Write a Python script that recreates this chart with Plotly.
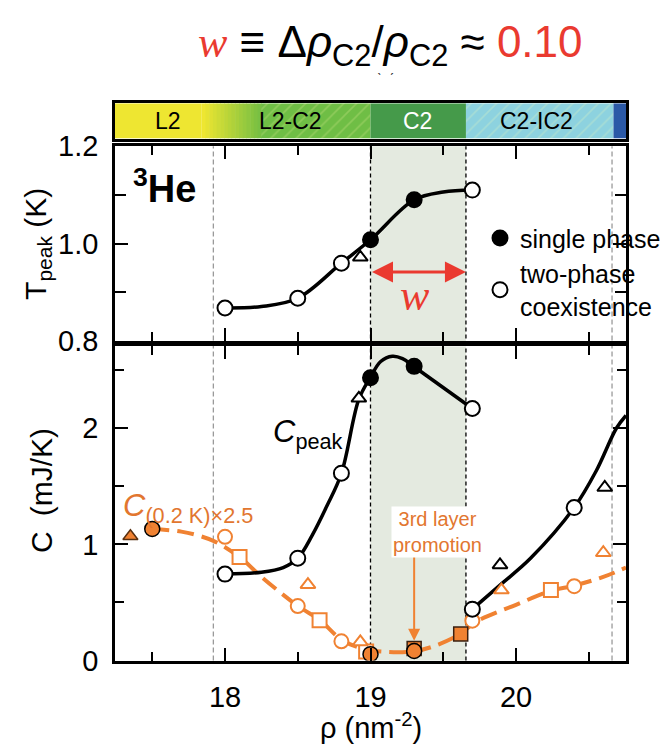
import numpy as np
import plotly.graph_objects as go

# ---------------- data ----------------
rho_range = [17.244, 20.756]

# phase bar (boundaries in nm^-2)
phase_names = ["L2", "L2-C2", "C2", "C2-IC2"]
phase_label_x = [17.61, 18.45, 19.32, 20.14]
phase_label_color = ["black", "black", "white", "black"]
l2_end = 17.84
grad_end = 18.25
c2_start = 19.0
c2_end = 19.656
ic2_start = 20.67

# boundary guide lines
gray_lines = [17.92, 20.66]
black_lines = [c2_start, c2_end]

# T_peak panel
tpk_single_x = [19.0, 19.3]
tpk_single_y = [1.008, 1.09]
tpk_coex_x = [18.0, 18.5, 18.8, 19.7]
tpk_coex_y = [0.868, 0.888, 0.96, 1.11]
tpk_tri_x = [18.93]
tpk_tri_y = [0.972]
tpk_curve_x = [18.0, 18.25, 18.5, 18.8, 19.0, 19.3, 19.5, 19.7]
tpk_curve_y = [0.868, 0.871, 0.888, 0.96, 1.008, 1.09, 1.106, 1.11]
w_arrow_T = 0.942

# C_peak (black)
cpk_single_x = [19.0, 19.3]
cpk_single_y = [2.436, 2.533]
cpk_coex_x = [18.0, 18.5, 18.8, 19.7, 19.7, 20.4]
cpk_coex_y = [0.744, 0.881, 1.613, 2.17, 0.442, 1.317]
cpk_tri_x = [18.92, 19.89, 20.61]
cpk_tri_y = [2.258, 0.823, 1.49]
cpk_curve1_x = [18.0, 18.25, 18.4, 18.5, 18.6, 18.7, 18.8, 18.92, 19.0, 19.07, 19.15, 19.22, 19.3, 19.7]
cpk_curve1_y = [0.744, 0.76, 0.80, 0.88, 1.08, 1.33, 1.61, 2.25, 2.44, 2.575, 2.62, 2.60, 2.53, 2.17]
cpk_curve2_x = [19.7, 19.9, 20.1, 20.4, 20.55, 20.69, 20.756]
cpk_curve2_y = [0.442, 0.66, 0.88, 1.317, 1.63, 2.0, 2.11]

# C(0.2 K) x 2.5 (orange)
c02_fcirc_x = [17.5, 19.0, 19.3]
c02_fcirc_y = [1.133, 0.055, 0.082]
c02_ftri_x = [17.35]
c02_ftri_y = [1.07]
c02_fsq_x = [19.3, 19.62]
c02_fsq_y = [0.104, 0.228]
c02_ocirc_x = [18.0, 18.5, 18.8, 19.7, 20.4]
c02_ocirc_y = [1.065, 0.469, 0.165, 0.343, 0.64]
c02_osq_x = [18.1, 18.65, 18.97, 20.24]
c02_osq_y = [0.892, 0.346, 0.077, 0.607]
c02_otri_x = [18.57, 18.93, 19.9, 20.6]
c02_otri_y = [0.653, 0.16, 0.607, 0.928]
c02_curve_x = [17.5, 17.7, 17.92, 18.1, 18.26, 18.5, 18.65, 18.8, 18.95, 19.1, 19.3, 19.45,
               19.62, 19.72, 20.0, 20.24, 20.4, 20.6, 20.756]
c02_curve_y = [1.13, 1.11, 1.03, 0.89, 0.71, 0.47, 0.35, 0.18, 0.10, 0.075, 0.08, 0.13,
               0.23, 0.33, 0.48, 0.60, 0.645, 0.72, 0.80]

promo_rho = 19.3
promo_arrow_C = [0.92, 0.17]

# ---------------- style ----------------
W, H = 671, 756
FONT = "Liberation Sans, Arial, sans-serif"
ORANGE = "#F08232"
ORANGE_TXT = "#E2762F"
RED = "#EA3A30"
SHADE = "#E4EAE0"


def px(xp):
    return xp / W


def py(yp):
    return 1 - yp / H


x_dom = [px(115), px(626)]
top_dom = [py(339.5), py(136)]
bot_dom = [py(673), py(345)]
bar_dom = [py(128), py(91)]

fig = go.Figure()

# ---- phase bar (horizontal bars on x3/y3) ----
def bar_seg(x0, x1, color, hatch=None):
    marker = dict(color=color, line=dict(width=0))
    if hatch:
        marker["pattern"] = dict(shape="/", fgcolor=hatch, bgcolor=color,
                                 fillmode="replace", size=9, solidity=0.18)
    fig.add_trace(go.Bar(x=[x1 - x0], base=[x0], y=[0], width=[1], orientation="h",
                         marker=marker, xaxis="x3", yaxis="y3", showlegend=False,
                         hoverinfo="skip"))


bar_seg(rho_range[0], l2_end, "#EEE631")
c_a = np.array([0xEE, 0xE6, 0x31])
c_b = np.array([0x78, 0xC0, 0x43])
steps = np.linspace(l2_end, grad_end, 17)
for i in range(len(steps) - 1):
    t = i / (len(steps) - 2)
    c = (c_a + (c_b - c_a) * t).astype(int)
    bar_seg(steps[i], steps[i + 1] + 0.004, "rgb(%d,%d,%d)" % tuple(c))
bar_seg(grad_end, c2_start, "#6FBE45", hatch="#8ECB5A")
bar_seg(c2_start, c2_end, "#459A4A")
bar_seg(c2_end, ic2_start, "#8DD2DF", hatch="#A6DDD6")
bar_seg(ic2_start, rho_range[1], "#2B59A7")

# ---- upper panel: T_peak ----
fig.add_trace(go.Scatter(x=tpk_curve_x, y=tpk_curve_y, mode="lines",
                         line=dict(color="black", width=3.5, shape="spline", smoothing=1),
                         xaxis="x", yaxis="y", showlegend=False, hoverinfo="skip"))
fig.add_trace(go.Scatter(x=tpk_tri_x, y=tpk_tri_y, mode="markers",
                         marker=dict(symbol="triangle-up", size=13, color="white",
                                     line=dict(color="black", width=2)),
                         xaxis="x", yaxis="y", showlegend=False))
fig.add_trace(go.Scatter(x=tpk_single_x, y=tpk_single_y, mode="markers", name="single phase",
                         marker=dict(symbol="circle", size=15, color="black",
                                     line=dict(color="black", width=2)),
                         xaxis="x", yaxis="y", showlegend=True))
fig.add_trace(go.Scatter(x=tpk_coex_x, y=tpk_coex_y, mode="markers",
                         name="two-phase<br>coexistence",
                         marker=dict(symbol="circle", size=15, color="white",
                                     line=dict(color="black", width=2)),
                         xaxis="x", yaxis="y", showlegend=True))

# ---- lower panel ----
fig.add_trace(go.Scatter(x=c02_curve_x, y=c02_curve_y, mode="lines",
                         line=dict(color=ORANGE, width=4, dash="17px,8px", shape="spline",
                                   smoothing=1),
                         xaxis="x2", yaxis="y2", showlegend=False, hoverinfo="skip"))
for cx, cy in [(cpk_curve1_x, cpk_curve1_y), (cpk_curve2_x, cpk_curve2_y)]:
    fig.add_trace(go.Scatter(x=cx, y=cy, mode="lines",
                             line=dict(color="black", width=3.5, shape="spline", smoothing=1),
                             xaxis="x2", yaxis="y2", showlegend=False, hoverinfo="skip"))

orange_sets = [
    (c02_ocirc_x, c02_ocirc_y, "circle", "white", ORANGE, 14),
    (c02_osq_x, c02_osq_y, "square", "white", ORANGE, 14),
    (c02_otri_x, c02_otri_y, "triangle-up", "white", ORANGE, 13),
    (c02_ftri_x, c02_ftri_y, "triangle-up", ORANGE, "#5a3010", 13),
    (c02_fsq_x, c02_fsq_y, "square", ORANGE, "#3a2010", 14),
    (c02_fcirc_x, c02_fcirc_y, "circle", ORANGE, "black", 15),
]
for xs, ys, sym, fill, edge, sz in orange_sets:
    fig.add_trace(go.Scatter(x=xs, y=ys, mode="markers",
                             marker=dict(symbol=sym, size=sz, color=fill,
                                         line=dict(color=edge, width=2 if fill == "white" else 1.5)),
                             xaxis="x2", yaxis="y2", showlegend=False))

fig.add_trace(go.Scatter(x=cpk_tri_x, y=cpk_tri_y, mode="markers",
                         marker=dict(symbol="triangle-up", size=13, color="white",
                                     line=dict(color="black", width=2)),
                         xaxis="x2", yaxis="y2", showlegend=False))
fig.add_trace(go.Scatter(x=cpk_coex_x, y=cpk_coex_y, mode="markers",
                         marker=dict(symbol="circle", size=15, color="white",
                                     line=dict(color="black", width=2)),
                         xaxis="x2", yaxis="y2", showlegend=False))
fig.add_trace(go.Scatter(x=cpk_single_x, y=cpk_single_y, mode="markers",
                         marker=dict(symbol="circle", size=15, color="black",
                                     line=dict(color="black", width=2)),
                         xaxis="x2", yaxis="y2", showlegend=False))

# ---- shapes: shaded C2 window and guide lines ----
shapes = []
for xr, yr in [("x", "y domain"), ("x2", "y2 domain")]:
    shapes.append(dict(type="rect", xref=xr, yref=yr, x0=c2_start, x1=c2_end, y0=0, y1=1,
                       fillcolor=SHADE, line=dict(width=0), layer="below"))
for xv in gray_lines:
    shapes.append(dict(type="line", xref="x", yref="paper", x0=xv, x1=xv,
                       y0=bot_dom[0], y1=top_dom[1], layer="below",
                       line=dict(color="#9a9a9a", width=1.3, dash="5px,3px")))
for xv in black_lines:
    shapes.append(dict(type="line", xref="x", yref="paper", x0=xv, x1=xv,
                       y0=bot_dom[0], y1=top_dom[1], layer="below",
                       line=dict(color="black", width=1.3, dash="4px,3px")))


# ---- annotations ----
def text_ann(x, y, text, size, color="black", family=FONT, xanchor="center",
             yanchor="middle", **kw):
    d = dict(xref="paper", yref="paper", x=x, y=y, text=text, showarrow=False,
             xanchor=xanchor, yanchor=yanchor,
             font=dict(family=family, size=size, color=color))
    d.update(kw)
    return d


ann = []
ann.append(text_ann(
    px(390), py(30),
    ("<span style=\"font-family:'Liberation Serif',serif;font-style:italic;color:%s\">w</span>"
     " ≡ Δ<i>ρ</i><sub>C2</sub>/<i>ρ</i><sub>C2</sub> ≈ "
     "<span style=\"color:%s\">0.10</span>") % (RED, RED), 44))
ann.append(text_ann(px(385), py(66), "ˋ  ˊ", 14, color="#333"))
for name, xl, col in zip(phase_names, phase_label_x, phase_label_color):
    ann.append(dict(xref="x3", yref="y3", x=xl, y=0, showarrow=False, text=name,
                    xanchor="center", yanchor="middle",
                    font=dict(family=FONT, size=23, color=col)))
ann.append(text_ann(px(131), py(178), "<b><sup>3</sup>He</b>", 38, xanchor="left"))
# w double arrow
ann.append(dict(xref="x", yref="y", axref="x", ayref="y", x=c2_end, y=w_arrow_T,
                ax=c2_start, ay=w_arrow_T, text="", showarrow=True, arrowhead=2,
                arrowside="end+start", arrowsize=1.4, arrowwidth=3, arrowcolor=RED,
                standoff=0, startstandoff=0))
ann.append(text_ann(px(415), py(292), "<i>w</i>", 44, color=RED,
                    family="Liberation Serif, serif"))
# panel labels
ann.append(text_ann(px(271), py(436), "<i>C</i><sub>peak</sub>", 31, xanchor="left"))
ann.append(text_ann(px(121), py(514), "<i>C</i><sub>(0.2 K)×2.5</sub>", 31,
                    color=ORANGE_TXT, xanchor="left"))
# 3rd layer promotion
ann.append(dict(xref="x2", yref="y2", axref="x2", ayref="y2", x=promo_rho, y=promo_arrow_C[1],
                ax=promo_rho, ay=promo_arrow_C[0], text="", showarrow=True, arrowhead=2,
                arrowsize=1.2, arrowwidth=2, arrowcolor=ORANGE, standoff=0))
ann.append(text_ann(px(437), py(539), "3rd layer<br>promotion", 20, color=ORANGE_TXT,
                    bgcolor="white", borderpad=1))
# axis titles
ann.append(text_ann(px(38), py(238), "T<sub>peak</sub> (K)", 30, textangle=-90))
ann.append(text_ann(px(41), py(496), "C\u2002(mJ/K)", 30, textangle=-90))
ann.append(text_ann(px(371), py(741), "ρ (nm<sup>-2</sup>)", 29))

# ---- axes ----
tickfont = dict(family=FONT, size=29, color="black")
base_ax = dict(showline=True, linewidth=2.5, linecolor="black", mirror="allticks",
               ticks="inside", ticklen=13, tickwidth=2, tickcolor="black",
               showgrid=False, zeroline=False, tickfont=tickfont, ticklabelstandoff=8)

xcommon = dict(base_ax, range=rho_range, domain=x_dom, tick0=18, dtick=1,
               minor=dict(ticks="inside", ticklen=9, tickwidth=2, tickcolor="black", dtick=0.5,
                          tick0=17.5))

fig.update_layout(
    width=W, height=H, margin=dict(l=0, r=0, t=0, b=0),
    paper_bgcolor="white", plot_bgcolor="white",
    barmode="overlay",
    font=dict(family=FONT, color="black"),
    xaxis=dict(xcommon, anchor="y", showticklabels=False),
    yaxis=dict(base_ax, domain=top_dom, range=[0.8, 1.2], tick0=0.8, dtick=0.2,
               tickformat=".1f", anchor="x",
               minor=dict(ticks="inside", ticklen=11, tickwidth=2, tickcolor="black",
                          dtick=0.1, tick0=0.8)),
    xaxis2=dict(xcommon, anchor="y2", ticklabelstandoff=9),
    yaxis2=dict(base_ax, domain=bot_dom, range=[0, 2.705], tick0=0, dtick=1, anchor="x2",
                minor=dict(ticks="inside", ticklen=9, tickwidth=2, tickcolor="black",
                           dtick=0.5, tick0=0)),
    xaxis3=dict(range=rho_range, domain=x_dom, anchor="y3", showline=True, linewidth=2.5,
                linecolor="black", mirror=True, ticks="", showticklabels=False,
                showgrid=False, zeroline=False, fixedrange=True),
    yaxis3=dict(range=[-0.5, 0.5], domain=bar_dom, anchor="x3", showline=True,
                linewidth=2.5, linecolor="black", mirror=True, ticks="",
                showticklabels=False, showgrid=False, zeroline=False, fixedrange=True),
    shapes=shapes,
    annotations=ann,
    showlegend=True,
    legend=dict(x=px(480), y=py(208), xanchor="left", yanchor="top",
                bgcolor="rgba(0,0,0,0)", font=dict(family=FONT, size=25, color="black"),
                itemclick=False, tracegroupgap=0),
)

fig.write_html("out.html")
